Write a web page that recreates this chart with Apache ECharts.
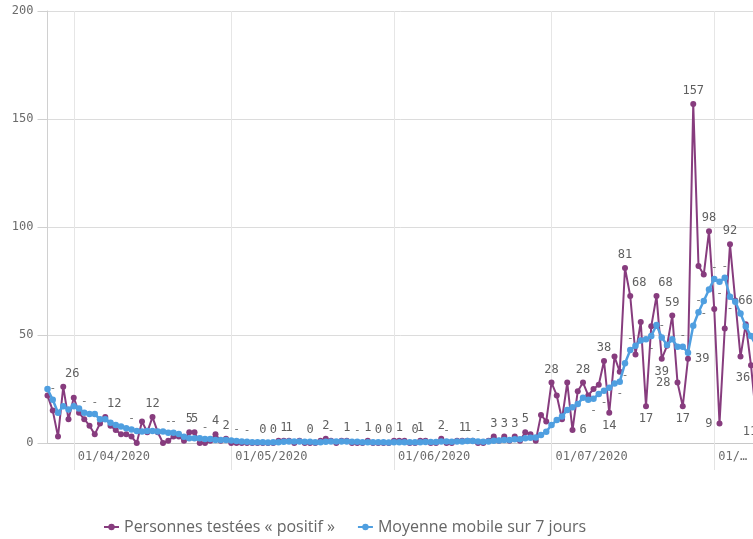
<!DOCTYPE html>
<html>
<head>
<meta charset="utf-8">
<script src="https://cdn.jsdelivr.net/npm/echarts@6/dist/echarts.min.js"></script>
<style>
  html, body { margin: 0; padding: 0; background: #fff; }
  #chart { width: 753px; height: 539px; }
</style>
</head>
<body>
<div id="chart"></div>
<script>
// Daily series, one value per day starting 27/03/2020
const startDate = '2020-03-27'
const dayCount = 136

const positives = [
  22, 15, 3, 26, 11, 21, 14, 11, 8, 4,
  9, 12, 8, 6, 4, 4, 3, 0, 10, 5,
  12, 5, 0, 1, 3, 3, 1, 5, 5, 0,
  0, 1, 4, 1, 2, 0, 0, 0, 0, 0,
  0, 0, 0, 0, 1, 1, 1, 0, 1, 0,
  0, 0, 1, 2, 1, 0, 1, 1, 0, 0,
  0, 1, 0, 0, 0, 0, 1, 1, 1, 0,
  0, 1, 1, 0, 0, 2, 0, 0, 1, 1,
  1, 1, 0, 0, 1, 3, 1, 3, 1, 3,
  1, 5, 4, 1, 13, 10, 28, 22, 11, 28,
  6, 24, 28, 22, 25, 27, 38, 14, 40, 33,
  81, 68, 41, 56, 17, 54, 68, 39, 45, 59,
  28, 17, 39, 157, 82, 78, 98, 62, 9, 53,
  92, 66, 40, 55, 36, 11,
]

const movingAvg = [
  25, 20, 14, 17, 15.5, 17, 16, 14, 13.4, 13.4,
  11, 11, 9.4, 8.3, 7.6, 6.8, 6.3, 5.6, 5.3, 5.6,
  5.6, 5.3, 5.3, 4.8, 4.8, 4.2, 2.9, 2.2, 2.2, 2.2,
  1.9, 1.9, 1.4, 1.4, 1.4, 1.1, 0.9, 0.7, 0.6, 0.4,
  0.3, 0.3, 0.2, 0.3, 0.4, 0.6, 0.7, 0.7, 0.7, 0.6,
  0.6, 0.4, 0.4, 0.6, 0.7, 0.7, 0.7, 0.7, 0.6, 0.6,
  0.4, 0.4, 0.3, 0.3, 0.3, 0.2, 0.3, 0.4, 0.4, 0.4,
  0.4, 0.4, 0.5, 0.5, 0.5, 0.7, 0.7, 0.6, 0.7, 0.7,
  0.9, 0.9, 0.7, 0.6, 0.7, 1.0, 1.1, 1.4, 1.4, 1.7,
  1.7, 2.2, 2.4, 2.6, 3.7, 5.2, 8.3, 10.6, 12.3, 15.3,
  16.5, 18, 21, 20, 20.5, 22.7, 24.2, 25.6, 27.6, 28.4,
  36.9, 43, 45, 47.4, 48, 49.5, 54.6, 48.9, 45.4, 48,
  44.6, 44.6, 41.8, 54.3, 60.5, 65.7, 71.1, 75.9, 74.7, 76.5,
  67.7, 65.4, 60, 53.9, 49.5, 45,
]

const yTicks = [0, 50, 100, 150, 200]
const seriesNames = ['Personnes testées « positif »', 'Moyenne mobile sur 7 jours']

const PURPLE = '#873c7e'
const BLUE = '#4f9fe0'
const MONO = 'DejaVu Sans Mono'

// dd/mm/yyyy labels for each day
const dates = []
for (let i = 0; i < dayCount; i++) {
  const d = new Date(startDate + 'T12:00:00Z')
  d.setUTCDate(d.getUTCDate() + i)
  const dd = String(d.getUTCDate()).padStart(2, '0')
  const mm = String(d.getUTCMonth() + 1).padStart(2, '0')
  dates.push(`${dd}/${mm}/${d.getUTCFullYear()}`)
}

const isMonthStart = (i) => dates[i].startsWith('01/')

// Which points carry a value label, and where it sits (like the Qlik auto labels)
const purpleLabels = {
  top: [20, 27, 28, 32, 34, 41, 43, 45, 46, 50, 53, 57, 61, 63, 65, 67, 70, 71,
        75, 79, 80, 85, 87, 89, 91, 96, 102, 106, 110, 119, 123, 126, 130],
  bottom: [107, 114, 117, 121],
  right: [100, 122],
  left: [120, 128],
}
// labels nudged sideways off the line: [position, offset]
const shifted = {
  3: ['top', [9, 0]],
  11: ['top', [9, 0]],
  111: ['top', [9, 0]],
  116: ['top', [9, 0]],
  131: ['right', [-4, 0]],
  134: ['bottom', [-8, 0]],
  135: ['left', [8, 13]],
}
// Qlik draws "-" for the moving-average labels it cannot fit
const dashTop = [1, 7, 9, 16, 23, 24, 30, 36, 38, 54, 59, 76, 82, 111, 117, 121, 124, 127, 129]
const dashBottom = [104, 106, 109, 110, 115, 125, 128, 130]

function purplePoint(v, i) {
  if (shifted[i]) {
    const [pos, offset] = shifted[i]
    return { value: v, label: { show: true, position: pos, offset } }
  }
  for (const pos of Object.keys(purpleLabels)) {
    if (purpleLabels[pos].includes(i)) return { value: v, label: { show: true, position: pos } }
  }
  return v
}

function bluePoint(v, i) {
  if (dashTop.includes(i)) return { value: v, label: { show: true, position: 'top' } }
  if (dashBottom.includes(i)) return { value: v, label: { show: true, position: 'bottom' } }
  return v
}

const chart = echarts.init(document.getElementById('chart'), null, { renderer: 'canvas' })

chart.setOption({
  animation: false,
  backgroundColor: '#fff',
  // the plot runs a little past the right edge, as in the cropped original
  grid: {
    left: 47.5, top: 11, width: 708.75, bottom: 96,
    containLabel: false, outerBoundsMode: 'none',
  },
  legend: {
    data: seriesNames,
    left: 98,
    top: 514,
    itemWidth: 15,
    itemHeight: 8,
    itemGap: 22,
    textStyle: { color: '#666', fontSize: 16, fontFamily: 'Open Sans' },
  },
  xAxis: {
    type: 'category',
    data: dates,
    boundaryGap: false,
    axisLine: { show: true, lineStyle: { color: '#c8c8c8' } },
    axisTick: {
      show: true,
      interval: (i) => isMonthStart(i),
      length: 27,
      lineStyle: { color: '#e3e3e3' },
    },
    axisLabel: {
      interval: (i) => isMonthStart(i),
      formatter: (v) => (v.startsWith('01/08') ? '01/…' : v),
      align: 'left',
      padding: [0, 0, 0, 4],
      margin: 8,
      color: '#6b6b6b',
      fontFamily: MONO,
      fontSize: 12,
    },
    splitLine: {
      show: true,
      interval: (i) => isMonthStart(i),
      lineStyle: { color: '#e6e6e6' },
    },
  },
  yAxis: {
    type: 'value',
    min: yTicks[0],
    max: yTicks[yTicks.length - 1],
    interval: 50,
    axisLine: { show: true, lineStyle: { color: '#d0d0d0' } },
    axisTick: { show: true, length: 10, lineStyle: { color: '#d0d0d0' } },
    axisLabel: { margin: 14, color: '#6b6b6b', fontFamily: MONO, fontSize: 12 },
    splitLine: { lineStyle: { color: '#dcdcdc' } },
  },
  series: [
    {
      name: seriesNames[0],
      type: 'line',
      data: positives.map(purplePoint),
      symbol: 'circle',
      symbolSize: 6,
      showAllSymbol: true,
      lineStyle: { color: PURPLE, width: 2 },
      itemStyle: { color: PURPLE },
      label: { color: '#5f5f5f', fontFamily: MONO, fontSize: 12, distance: 4 },
      z: 2,
    },
    {
      name: seriesNames[1],
      type: 'line',
      data: movingAvg.map(bluePoint),
      symbol: 'circle',
      symbolSize: 6.5,
      showAllSymbol: true,
      lineStyle: { color: BLUE, width: 2.5 },
      itemStyle: { color: BLUE },
      label: { color: '#6a6a6a', fontFamily: MONO, fontSize: 11, distance: 3, formatter: '-' },
      z: 3,
    },
  ],
})
</script>
</body>
</html>
